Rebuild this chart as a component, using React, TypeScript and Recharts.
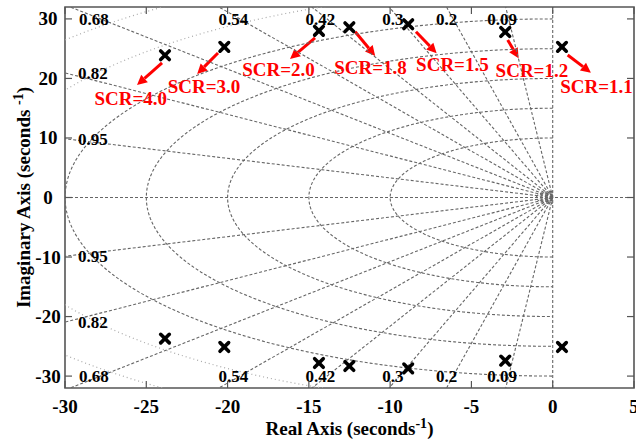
import { ScatterChart, Scatter, XAxis, YAxis, ReferenceLine, ReferenceArea } from "recharts";

// damping ratios and natural frequencies of the s-plane grid
const zetas = [0.09, 0.2, 0.3, 0.42, 0.54, 0.68, 0.82, 0.95];
const wnDashed = [10, 15, 20, 25, 30];
const wnDotted = [35, 40];
const wnSmall = [0.25, 0.5, 0.75, 1.0];

// poles for each SCR case
const scrNames = ["SCR=4.0", "SCR=3.0", "SCR=2.0", "SCR=1.8", "SCR=1.5", "SCR=1.2", "SCR=1.1"];
const poleRe = [-23.85, -20.2, -14.38, -12.51, -8.89, -2.92, 0.57];
const poleImUp = [23.9, 25.3, 28.0, 28.6, 29.1, 27.8, 25.3];
const poleImDown = [-23.7, -25.1, -27.8, -28.3, -28.7, -27.4, -25.1];

const xTicks = [-30, -25, -20, -15, -10, -5, 0, 5];
const yTicks = [-30, -20, -10, 0, 10, 20, 30];

// annotation layout, in axis units
const arrowFrom = [
  [-24.03, 22.6], [-20.59, 24.27], [-14.62, 26.8], [-12.15, 27.85],
  [-8.41, 27.85], [-2.77, 26.46], [0.92, 23.94],
];
const arrowTo = [
  [-25.57, 18.9], [-21.87, 20.74], [-16.16, 23.27], [-10.92, 23.77],
  [-7.14, 24.22], [-2.1, 23.38], [2.35, 20.97],
];
const textAt = [
  [-25.95, 16.63], [-21.45, 18.73], [-16.87, 21.54], [-11.21, 21.92],
  [-6.17, 22.34], [-1.28, 21.42], [2.69, 18.73],
];

const W = 636;
const H = 447;
const PLOT_TOP = 7;
const PLOT_BOTTOM = 388;
const PLOT_LEFT = 65;
const PLOT_RIGHT = 634;
const FRAME = "#555";
const GRID = "#666";
const FONT = "'Liberation Serif', 'Times New Roman', serif";

const poles = [
  ...poleRe.map((x, i) => ({ x, y: poleImUp[i] })),
  ...poleRe.map((x, i) => ({ x, y: poleImDown[i] })),
];

const arc = (r: number) => {
  const pts = [];
  for (let d = 90; d <= 270; d += 2) {
    const a = (d * Math.PI) / 180;
    pts.push({ x: r * Math.cos(a), y: r * Math.sin(a) });
  }
  return pts;
};

const rays = zetas.flatMap((z) => {
  const s = Math.sqrt(1 - z * z);
  return [
    [{ x: 0, y: 0 }, { x: -60 * z, y: 60 * s }],
    [{ x: 0, y: 0 }, { x: -60 * z, y: -60 * s }],
  ];
});

const zetaLabels = zetas.flatMap((z) => {
  const s = Math.sqrt(1 - z * z);
  const left = 30 / z < 30 / s;
  return [1, -1].map((sign) =>
    left
      ? { x: -29.2, y: (sign * 30 * s) / z, text: String(z), anchor: "start" }
      : { x: (-30 * z) / s - 0.4, y: sign * 30, text: String(z), anchor: "middle" }
  );
});

const annotations = scrNames.map((t, i) => ({ x: textAt[i][0], y: textAt[i][1], text: t }));

const XTick = (props: any) => {
  const { x, payload } = props;
  return (
    <g>
      <line x1={x} x2={x} y1={PLOT_BOTTOM} y2={PLOT_BOTTOM - 7} stroke={FRAME} strokeWidth={1.2} />
      <line x1={x} x2={x} y1={PLOT_TOP} y2={PLOT_TOP + 7} stroke={FRAME} strokeWidth={1.2} />
      <text x={x} y={PLOT_BOTTOM + 25} textAnchor="middle" fontFamily={FONT} fontWeight="bold" fontSize={19} fill="#000">
        {payload.value}
      </text>
    </g>
  );
};

const YTick = (props: any) => {
  const { y, payload } = props;
  return (
    <g>
      <line x1={PLOT_LEFT} x2={PLOT_LEFT + 7} y1={y} y2={y} stroke={FRAME} strokeWidth={1.2} />
      <line x1={PLOT_RIGHT} x2={PLOT_RIGHT - 7} y1={y} y2={y} stroke={FRAME} strokeWidth={1.2} />
      <text x={48} y={y + 6.5} textAnchor="middle" fontFamily={FONT} fontWeight="bold" fontSize={19} fill="#000">
        {payload.value}
      </text>
    </g>
  );
};

const xTitle = (props: any) => {
  const vb = props.viewBox || { x: PLOT_LEFT, width: PLOT_RIGHT - PLOT_LEFT };
  return (
    <text x={vb.x + vb.width / 2} y={PLOT_BOTTOM + 47} textAnchor="middle" fontFamily={FONT} fontWeight="bold" fontSize={19} fill="#000">
      <tspan>Real Axis (seconds</tspan>
      <tspan dy={-7} fontSize={14}>-1</tspan>
      <tspan dy={7}>)</tspan>
    </text>
  );
};

const yTitle = (props: any) => {
  const vb = props.viewBox || { y: PLOT_TOP, height: PLOT_BOTTOM - PLOT_TOP };
  const cy = vb.y + vb.height / 2;
  return (
    <text x={30} y={cy} transform={`rotate(-90, 30, ${cy})`} textAnchor="middle" fontFamily={FONT} fontWeight="bold" fontSize={19} fill="#000">
      <tspan>Imaginary Axis (seconds </tspan>
      <tspan dy={-7} fontSize={14}>-1</tspan>
      <tspan dy={7}>)</tspan>
    </text>
  );
};

const PoleMark = (props: any) => {
  const { cx, cy } = props;
  const d = 4.3;
  return (
    <g stroke="#000" strokeWidth={3.6} strokeLinecap="round">
      <line x1={cx - d} y1={cy - d} x2={cx + d} y2={cy + d} />
      <line x1={cx - d} y1={cy + d} x2={cx + d} y2={cy - d} />
    </g>
  );
};

const ZetaText = (props: any) => {
  const { cx, cy, payload } = props;
  return (
    <text x={cx} y={cy} dy="0.35em" textAnchor={payload.anchor} fontFamily={FONT} fontWeight="bold" fontSize={17} fill="#000">
      {payload.text}
    </text>
  );
};

const ScrText = (props: any) => {
  const { cx, cy, payload } = props;
  return (
    <text x={cx} y={cy} dy="0.35em" textAnchor="middle" fontFamily={FONT} fontWeight="bold" fontSize={19} fill="#ff0000">
      {payload.text}
    </text>
  );
};

const Arrow = (props: any) => {
  const { x1, y1, x2, y2 } = props;
  const dx = x2 - x1;
  const dy = y2 - y1;
  const len = Math.sqrt(dx * dx + dy * dy) || 1;
  const ux = dx / len;
  const uy = dy / len;
  const head = 10;
  const half = 5;
  const bx = x2 - ux * head;
  const by = y2 - uy * head;
  return (
    <g>
      <line x1={x1} y1={y1} x2={bx} y2={by} stroke="#ff0000" strokeWidth={3} />
      <polygon
        points={`${x2},${y2} ${bx - uy * half},${by + ux * half} ${bx + uy * half},${by - ux * half}`}
        fill="#ff0000"
      />
    </g>
  );
};

const noDot = () => <g />;

export default function App() {
  return (
    <div style={{ position: "absolute", left: 0, top: 0, background: "#fff" }}>
      <ScatterChart width={W} height={H} margin={{ top: PLOT_TOP, right: W - PLOT_RIGHT, bottom: 29, left: 0 }}>
        <XAxis
          type="number"
          dataKey="x"
          domain={[-30, 5]}
          ticks={xTicks}
          interval={0}
          allowDataOverflow
          axisLine={false}
          tickLine={false}
          tick={XTick}
          height={30}
          label={xTitle}
        />
        <YAxis
          type="number"
          dataKey="y"
          domain={[-32, 32]}
          ticks={yTicks}
          interval={0}
          allowDataOverflow
          axisLine={false}
          tickLine={false}
          tick={YTick}
          width={PLOT_LEFT}
          label={yTitle}
        />
        {wnDotted.map((r) => (
          <Scatter
            key={`dot-${r}`}
            data={arc(r)}
            shape={noDot}
            line={{ stroke: "#aaa", strokeDasharray: "1 3", strokeWidth: 1.2 }}
            isAnimationActive={false}
          />
        ))}
        {[...wnSmall, ...wnDashed].map((r) => (
          <Scatter
            key={`arc-${r}`}
            data={arc(r)}
            shape={noDot}
            line={{ stroke: GRID, strokeDasharray: "3 2", strokeWidth: 1.1 }}
            isAnimationActive={false}
          />
        ))}
        {rays.map((pts, i) => (
          <Scatter
            key={`ray-${i}`}
            data={pts}
            shape={noDot}
            line={{ stroke: GRID, strokeDasharray: "3 2", strokeWidth: 1.1 }}
            isAnimationActive={false}
          />
        ))}
        <ReferenceLine y={0} stroke={GRID} strokeDasharray="3 2" strokeWidth={1.1} />
        <ReferenceLine x={0} stroke={GRID} strokeDasharray="3 2" strokeWidth={1.1} />
        <Scatter data={zetaLabels} shape={ZetaText} isAnimationActive={false} />
        <Scatter data={poles} shape={PoleMark} isAnimationActive={false} />
        {arrowFrom.map((p, i) => (
          <ReferenceLine
            key={`arrow-${i}`}
            segment={[
              { x: p[0], y: p[1] },
              { x: arrowTo[i][0], y: arrowTo[i][1] },
            ]}
            shape={Arrow}
          />
        ))}
        <Scatter data={annotations} shape={ScrText} isAnimationActive={false} />
        <ReferenceArea x1={-30} x2={5} y1={-32} y2={32} fill="none" stroke={FRAME} strokeWidth={1.6} />
      </ScatterChart>
    </div>
  );
}
